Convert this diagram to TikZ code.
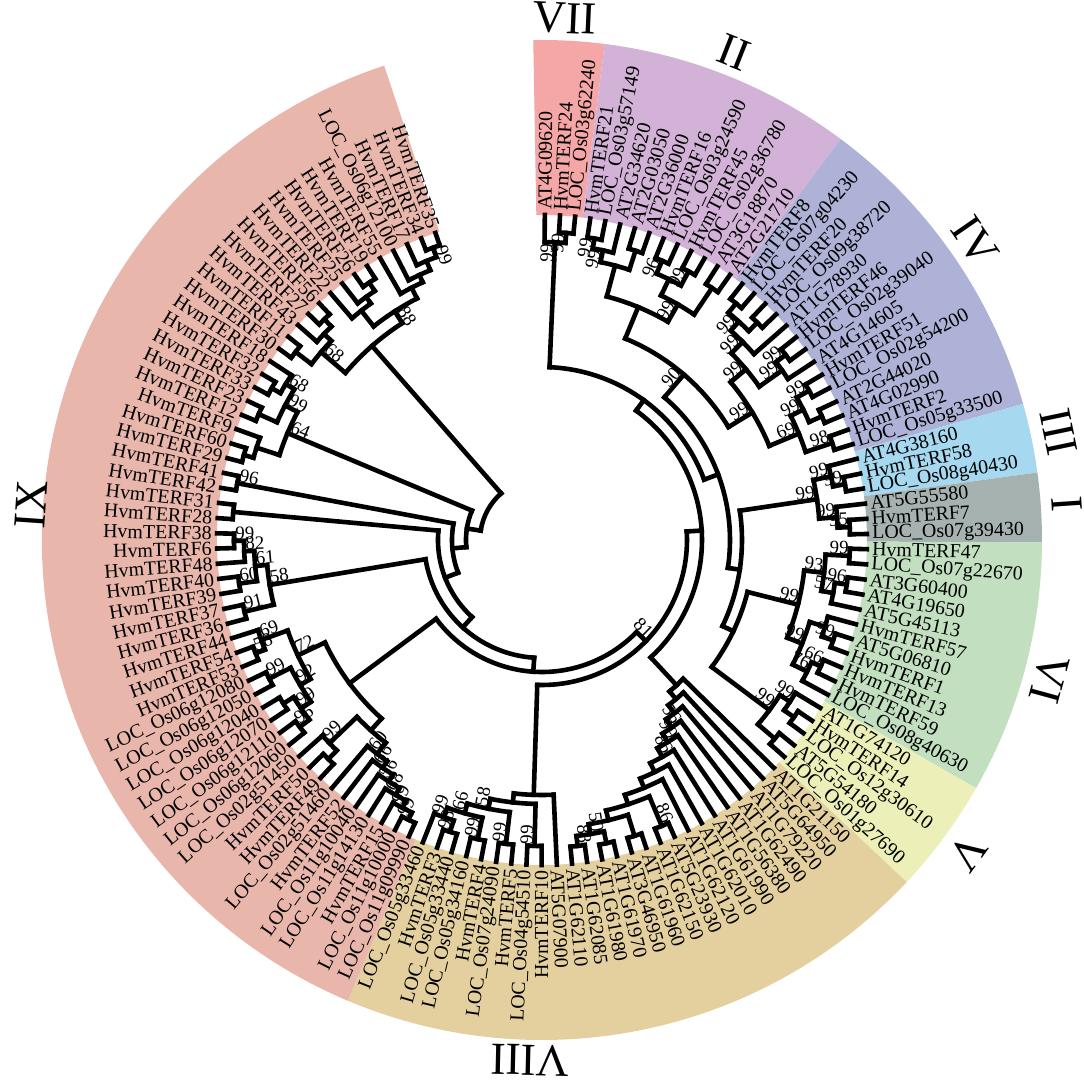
\documentclass[tikz,border=0pt]{standalone}
\usepackage{fontspec}
\setmainfont{Liberation Serif}
\usepackage{tikz}
\definecolor{gVII}{HTML}{F5A6A6}
\definecolor{gII}{HTML}{D2B2D6}
\definecolor{gIV}{HTML}{ADB2D6}
\definecolor{gIII}{HTML}{A6D8F0}
\definecolor{gI}{HTML}{A6B2B0}
\definecolor{gVI}{HTML}{C2E0C0}
\definecolor{gV}{HTML}{ECF0B8}
\definecolor{gVIII}{HTML}{E4D09E}
\definecolor{gIX}{HTML}{E8B6AA}
\newcommand{\tipr}{325}
\newcommand{\band}[3]{\fill[#1] (#2:325) arc[start angle=#2,end angle=#3,radius=325]
  -- (#3:500) arc[start angle=#3,end angle=#2,radius=500] -- cycle;}
\newcommand{\clade}[6]{%
  \edef\cf{\csname la@#3\endcsname}%
  \edef\cl{\csname la@#4\endcsname}%
  \pgfmathsetmacro{\ca}{(\cf+\cl)/2}%
  \expandafter\xdef\csname la@#1\endcsname{\ca}%
  \coordinate (#1) at (\ca:#2);
  \draw[branch] (\cf:#2) arc[start angle=\cf,end angle=\cl,radius=#2];
  \foreach \ch in {#5}{\edef\chA{\csname la@\ch\endcsname}\draw[branch] (\ch) -- (\chA:#2);}
  \ifx&#6&\else
    \ifdim\ca pt<-90pt
      \node[bootlab,anchor=south west,rotate=\ca+180] (B#1) at (#1) {#6};
    \else
      \node[bootlab,anchor=south east,rotate=\ca] (B#1) at (#1) {#6};
    \fi
  \fi}

\begin{document}
\begin{tikzpicture}[x=0.5bp,y=0.5bp,
  branch/.style={line width=2.3bp,line cap=rect},
  leaflab/.style={font=\fontsize{10}{10}\selectfont,inner sep=1bp},
  bootlab/.style={font=\fontsize{9.5}{10}\selectfont,inner sep=0.5bp},
  clanlab/.style={font=\fontsize{23}{24}\selectfont,inner sep=0pt}]
\useasboundingbox[fill=white] (-542,-540) rectangle (542,540);
\band{gVII}{91.0}{82.8}
\band{gII}{82.8}{53.32}
\band{gIV}{53.32}{15.8}
\band{gIII}{15.8}{7.76}
\band{gI}{7.76}{-0.28}
\band{gVI}{-0.28}{-29.76}
\band{gV}{-29.76}{-43.16}
\band{gVIII}{-43.16}{-112.84}
\band{gIX}{-112.84}{-251.6}
\foreach \i/\lab in {0/AT4G09620,1/HvmTERF24,2/LOC\_Os03g62240,3/HvmTERF21,4/LOC\_Os03g57149,
  5/AT2G34620,6/AT2G03050,7/AT2G36000,8/HvmTERF16,9/LOC\_Os03g24590,10/HvmTERF45,
  11/LOC\_Os02g36780,12/AT3G18870,13/AT2G21710,14/HvmTERF8,15/LOC\_Os07g04230,16/HvmTERF20,
  17/LOC\_Os09g38720,18/AT1G78930,19/HvmTERF46,20/LOC\_Os02g39040,21/AT4G14605,22/HvmTERF51,
  23/LOC\_Os02g54200,24/AT2G44020,25/AT4G02990,26/HvmTERF2,27/LOC\_Os05g33500,28/AT4G38160,
  29/HvmTERF58,30/LOC\_Os08g40430,31/AT5G55580,32/HvmTERF7,33/LOC\_Os07g39430,34/HvmTERF47,
  35/LOC\_Os07g22670,36/AT3G60400,37/AT4G19650,38/AT5G45113,39/HvmTERF57,40/AT5G06810,
  41/HvmTERF1,42/HvmTERF13,43/HvmTERF59,44/LOC\_Os08g40630,45/AT1G74120,46/HvmTERF14,
  47/LOC\_Os12g30610,48/AT5G54180,49/LOC\_Os01g27690,50/AT1G21150,51/AT5G64950,52/AT1G79220,
  53/AT1G62490,54/AT1G56380,55/AT1G61990,56/AT1G62010,57/AT1G62120,58/AT5G23930,59/AT1G62150,
  60/AT1G61960,61/AT3G46950,62/AT1G61970,63/AT1G61980,64/AT1G62085,65/AT1G62110,66/AT5G07900,
  67/HvmTERF10,68/LOC\_Os04g54510,69/HvmTERF5,70/LOC\_Os07g24090,71/HvmTERF4,72/LOC\_Os05g34160,
  73/LOC\_Os05g33440,74/HvmTERF3,75/LOC\_Os05g33460,76/LOC\_Os11g09990,77/LOC\_Os11g10000,
  78/HvmTERF15,79/LOC\_Os11g14130,80/LOC\_Os11g10040,81/HvmTERF52,82/LOC\_Os02g51460,
  83/HvmTERF49,84/HvmTERF50,85/LOC\_Os02g51450,86/LOC\_Os06g12060,87/LOC\_Os06g12110,
  88/LOC\_Os06g12070,89/LOC\_Os06g12040,90/LOC\_Os06g12050,91/LOC\_Os06g12080,92/HvmTERF53,
  93/HvmTERF54,94/HvmTERF44,95/HvmTERF36,96/HvmTERF37,97/HvmTERF39,98/HvmTERF40,99/HvmTERF48,
  100/HvmTERF6,101/HvmTERF38,102/HvmTERF28,103/HvmTERF31,104/HvmTERF42,105/HvmTERF41,
  106/HvmTERF29,107/HvmTERF60,108/HvmTERF9,109/HvmTERF12,110/HvmTERF23,111/HvmTERF33,
  112/HvmTERF32,113/HvmTERF18,114/HvmTERF30,115/HvmTERF11,116/HvmTERF43,117/HvmTERF27,
  118/HvmTERF56,119/HvmTERF22,120/HvmTERF25,121/HvmTERF26,122/HvmTERF19,123/HvmTERF55,
  124/LOC\_Os06g12100,125/HvmTERF17,126/HvmTERF34,127/HvmTERF35}{
  \pgfmathsetmacro{\la}{89.5-2.68*\i}
  \expandafter\xdef\csname la@L\i\endcsname{\la}
  \coordinate (L\i) at (\la:\tipr);
  \ifdim\la pt<-90pt
    \node[leaflab,anchor=east,rotate=\la+180] (T\i) at (\la:328) {\lab};
  \else
    \node[leaflab,anchor=west,rotate=\la] (T\i) at (\la:328) {\lab};
  \fi
}
\clade{v12}{308}{L1}{L2}{L1,L2}{99}
\clade{cVII}{298}{L0}{v12}{L0,v12}{99}
\clade{c34}{306}{L3}{L4}{L3,L4}{99}
\clade{c35}{296}{c34}{L5}{c34,L5}{99}
\clade{c67}{304}{L6}{L7}{L6,L7}{}
\clade{c37}{284}{c35}{c67}{c35,c67}{}
\clade{c89}{304}{L8}{L9}{L8,L9}{96}
\clade{c1011}{306}{L10}{L11}{L10,L11}{99}
\clade{c811}{290}{c89}{c1011}{c89,c1011}{}
\clade{c1213}{304}{L12}{L13}{L12,L13}{}
\clade{c813}{272}{c811}{c1213}{c811,c1213}{99}
\clade{cII}{252}{c37}{c813}{c37,c813}{}
\clade{c1415}{306}{L14}{L15}{L14,L15}{}
\clade{c1617}{306}{L16}{L17}{L16,L17}{}
\clade{c1417}{294}{c1415}{c1617}{c1415,c1617}{99}
\clade{c1418}{282}{c1417}{L18}{c1417,L18}{99}
\clade{c1920}{306}{L19}{L20}{L19,L20}{99}
\clade{c1921}{294}{c1920}{L21}{c1920,L21}{99}
\clade{c1421}{266}{c1418}{c1921}{c1418,c1921}{99}
\clade{c2223}{306}{L22}{L23}{L22,L23}{99}
\clade{c2425}{306}{L24}{L25}{L24,L25}{}
\clade{c2225}{292}{c2223}{c2425}{c2223,c2425}{99}
\clade{c2627}{306}{L26}{L27}{L26,L27}{98}
\clade{c2227}{278}{c2225}{c2627}{c2225,c2627}{69}
\clade{cIV}{246}{c1421}{c2227}{c1421,c2227}{99}
\clade{c2930}{308}{L29}{L30}{L29,L30}{99}
\clade{cIII}{296}{L28}{c2930}{L28,c2930}{99}
\clade{c3233}{308}{L32}{L33}{L32,L33}{95}
\clade{cI}{296}{L31}{c3233}{L31,c3233}{99}
\clade{c3435}{308}{L34}{L35}{L34,L35}{99}
\clade{c3637}{308}{L36}{L37}{L36,L37}{96}
\clade{c3638}{296}{c3637}{L38}{c3637,L38}{57}
\clade{c3438}{284}{c3435}{c3638}{c3435,c3638}{93}
\clade{c4041}{308}{L40}{L41}{L40,L41}{99}
\clade{c3941}{296}{L39}{c4041}{L39,c4041}{}
\clade{c4243}{306}{L42}{L43}{L42,L43}{66}
\clade{c4244}{296}{c4243}{L44}{c4243,L44}{76}
\clade{c3944}{280}{c3941}{c4244}{c3941,c4244}{99}
\clade{cVI}{264}{c3438}{c3944}{c3438,c3944}{99}
\clade{c4647}{308}{L46}{L47}{L46,L47}{}
\clade{c4547}{296}{L45}{c4647}{L45,c4647}{99}
\clade{c4849}{306}{L48}{L49}{L48,L49}{}
\clade{cV}{284}{c4547}{c4849}{c4547,c4849}{99}
\clade{c6465}{308}{L64}{L65}{L64,L65}{88}
\clade{c6263}{310}{L62}{L63}{L62,L63}{}
\clade{c6265}{298}{c6263}{c6465}{c6263,c6465}{50}
\clade{c6061}{310}{L60}{L61}{L60,L61}{}
\clade{c6065}{288}{c6061}{c6265}{c6061,c6265}{}
\clade{c5859}{310}{L58}{L59}{L58,L59}{86}
\clade{c5865}{278}{c5859}{c6065}{c5859,c6065}{}
\clade{c5765}{268}{L57}{c5865}{L57,c5865}{}
\clade{c5665}{258}{L56}{c5765}{L56,c5765}{}
\clade{c5565}{248}{L55}{c5665}{L55,c5665}{86}
\clade{c5465}{238}{L54}{c5565}{L54,c5565}{99}
\clade{c5365}{228}{L53}{c5465}{L53,c5465}{56}
\clade{c5265}{218}{L52}{c5365}{L52,c5365}{}
\clade{c5165}{208}{L51}{c5265}{L51,c5265}{}
\clade{cVIIIa}{198}{L50}{c5165}{L50,c5165}{}
\clade{c6768}{306}{L67}{L68}{L67,L68}{99}
\clade{c6970}{306}{L69}{L70}{L69,L70}{99}
\clade{c7172}{306}{L71}{L72}{L71,L72}{99}
\clade{c7374}{306}{L73}{L74}{L73,L74}{98}
\clade{c7375}{294}{c7374}{L75}{c7374,L75}{99}
\clade{c7175}{284}{c7172}{c7375}{c7172,c7375}{66}
\clade{c6975}{274}{c6970}{c7175}{c6970,c7175}{58}
\clade{c6775}{264}{c6768}{c6975}{c6768,c6975}{}
\clade{cVIIIb}{255}{L66}{c6775}{L66,c6775}{}
\clade{c7677}{310}{L76}{L77}{L76,L77}{99}
\clade{c7678}{302}{c7677}{L78}{c7677,L78}{99}
\clade{c7679}{294}{c7678}{L79}{c7678,L79}{68}
\clade{c7680}{286}{c7679}{L80}{c7679,L80}{56}
\clade{c7681}{278}{c7680}{L81}{c7680,L81}{66}
\clade{c7682}{270}{c7681}{L82}{c7681,L82}{60}
\clade{c8384}{306}{L83}{L84}{L83,L84}{}
\clade{c8385}{294}{c8384}{L85}{c8384,L85}{99}
\clade{c7685}{256}{c7682}{c8385}{c7682,c8385}{}
\clade{c8687}{306}{L86}{L87}{L86,L87}{96}
\clade{c8889}{306}{L88}{L89}{L88,L89}{}
\clade{c8689}{294}{c8687}{c8889}{c8687,c8889}{99}
\clade{c9091}{306}{L90}{L91}{L90,L91}{99}
\clade{c8691}{282}{c8689}{c9091}{c8689,c9091}{92}
\clade{c9293}{308}{L92}{L93}{L92,L93}{58}
\clade{c9294}{298}{c9293}{L94}{c9293,L94}{69}
\clade{c8694}{270}{c8691}{c9294}{c8691,c9294}{72}
\clade{cIXa}{240}{c7685}{c8694}{c7685,c8694}{}
\clade{c100}{308}{L100}{L101}{L100,L101}{99}
\clade{c99}{298}{L99}{c100}{L99,c100}{82}
\clade{c9798}{306}{L97}{L98}{L97,L98}{60}
\clade{c97}{288}{c9798}{c99}{c9798,c99}{61}
\clade{c9596}{306}{L95}{L96}{L95,L96}{91}
\clade{cIXb}{276}{c9596}{c97}{c9596,c97}{58}
\clade{cIXc}{310}{L102}{L103}{L102,L103}{}
\clade{cIXd}{310}{L104}{L105}{L104,L105}{96}
\clade{c106}{310}{L106}{L107}{L106,L107}{}
\clade{c106b}{300}{c106}{L108}{c106,L108}{}
\clade{c109}{310}{L109}{L110}{L109,L110}{}
\clade{c111}{310}{L111}{L112}{L111,L112}{}
\clade{c111b}{300}{c111}{L113}{c111,L113}{68}
\clade{c109b}{290}{c109}{c111b}{c109,c111b}{99}
\clade{cIXe}{276}{c106b}{c109b}{c106b,c109b}{64}
\clade{c126}{312}{L126}{L127}{L126,L127}{99}
\clade{c125}{302}{L125}{c126}{L125,c126}{}
\clade{c124}{292}{L124}{c125}{L124,c125}{}
\clade{c123}{284}{L123}{c124}{L123,c124}{}
\clade{c121}{310}{L121}{L122}{L121,L122}{}
\clade{c120}{300}{L120}{c121}{L120,c121}{}
\clade{c119}{292}{L119}{c120}{L119,c120}{}
\clade{c119b}{272}{c119}{c123}{c119,c123}{88}
\clade{c117}{310}{L117}{L118}{L117,L118}{}
\clade{c116}{300}{L116}{c117}{L116,c117}{}
\clade{c114}{310}{L114}{L115}{L114,L115}{}
\clade{c114b}{290}{c114}{c116}{c114,c116}{68}
\clade{cIXf}{258}{c114b}{c119b}{c114b,c119b}{}
\clade{cII4}{218}{cII}{cIV}{cII,cIV}{90}
\clade{cIII1}{278}{cIII}{cI}{cIII,cI}{99}
\clade{b12}{212}{cVI}{cV}{cVI,cV}{}
\clade{b11}{200}{cIII1}{b12}{cIII1,b12}{}
\clade{b10}{188}{cII4}{b11}{cII4,b11}{}
\clade{b9}{173}{cVII}{b10}{cVII,b10}{}
\clade{b8}{160}{b9}{cVIIIa}{b9,cVIIIa}{}
\clade{b7}{145}{b8}{cVIIIb}{b8,cVIIIb}{81}
\clade{b6}{132}{b7}{cIXa}{b7,cIXa}{}
\clade{b5}{118}{b6}{cIXb}{b6,cIXb}{}
\clade{b4}{104}{b5}{cIXc}{b5,cIXc}{}
\clade{b3}{90}{b4}{cIXd}{b4,cIXd}{}
\clade{b2}{76}{b3}{cIXe}{b3,cIXe}{}
\clade{b1}{62}{b2}{cIXf}{b2,cIXf}{}
\node[clanlab,rotate=-2.5] (nVII) at (87.5:522) {VII};
\node[clanlab,rotate=-21.5] (nII) at (68.5:524) {II};
\node[clanlab,rotate=-55.4] (nIV) at (34.6:526) {IV};
\node[clanlab,rotate=-78.2] (nIII) at (11.8:528) {III};
\node[clanlab,rotate=-86.1] (nI) at (3.9:526) {I};
\node[clanlab,rotate=-105.3] (nVI) at (-15.3:526) {VI};
\node[clanlab,rotate=-126.3] (nV) at (-36.3:528) {V};
\node[clanlab,rotate=-181.3] (nVIII) at (-91.3:520) {VIII};
\node[clanlab,rotate=86] (nIX) at (176:512) {IX};
\end{tikzpicture}
\end{document}
